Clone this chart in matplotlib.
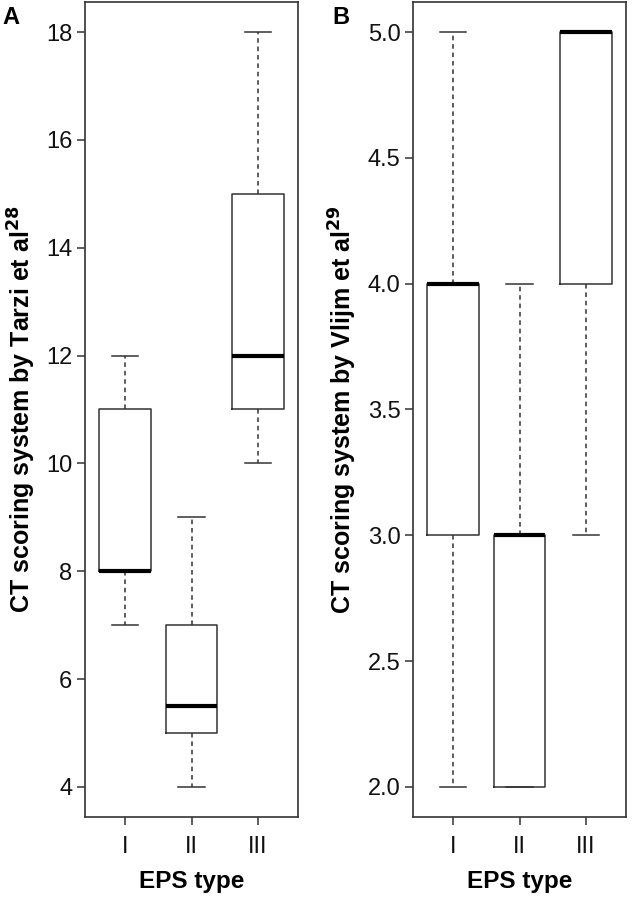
import matplotlib
matplotlib.use("Agg")
import matplotlib.pyplot as plt

plt.rcParams['font.family'] = ['Liberation Sans', 'DejaVu Sans']

# EPS type categories
groups = ["I", "II", "III"]

# Panel A: Tarzi et al scoring (whisker low, q1, median, q3, whisker high)
tarzi_low = [7, 4, 10]
tarzi_q1 = [8, 5, 11]
tarzi_med = [8, 5.5, 12]
tarzi_q3 = [11, 7, 15]
tarzi_high = [12, 9, 18]

# Panel B: Vlijm et al scoring
vlijm_low = [2, 2, 3]
vlijm_q1 = [3, 2, 4]
vlijm_med = [4, 3, 5]
vlijm_q3 = [4, 3, 5]
vlijm_high = [5, 4, 5]

line_col = "#333333"


def make_stats(low, q1, med, q3, high):
    stats = []
    for i in range(len(low)):
        stats.append(dict(whislo=low[i], q1=q1[i], med=med[i], q3=q3[i],
                          whishi=high[i], fliers=[]))
    return stats


def draw_panel(ax, stats, ylabel, yticks, yfmt):
    ax.bxp(stats, positions=[1, 2, 3], widths=0.78, showfliers=False,
           boxprops=dict(color=line_col, linewidth=1.1),
           whiskerprops=dict(color=line_col, linewidth=1.1, linestyle=(0, (3, 2.5))),
           capprops=dict(color=line_col, linewidth=1.1),
           medianprops=dict(color="black", linewidth=3.0, solid_capstyle="butt"),
           capwidths=0.4)
    ax.set_xlim(0.4, 3.6)
    lo, hi = yticks[0], yticks[-1]
    pad = (hi - lo) * 0.04
    ax.set_ylim(lo - pad, hi + pad)
    ax.set_yticks(yticks)
    ax.set_yticklabels([yfmt % v for v in yticks])
    ax.set_xticks([1, 2, 3])
    ax.set_xticklabels(groups)
    for s in ax.spines.values():
        s.set_color(line_col)
        s.set_linewidth(1.2)
    ax.tick_params(axis="both", direction="out", length=6, width=1.1,
                   color=line_col, labelsize=17, labelcolor="#111111")
    ax.tick_params(axis="x", pad=8)
    ax.tick_params(axis="y", pad=3)
    ax.set_ylabel(ylabel, fontsize=18, fontweight="bold", labelpad=6)
    ax.set_xlabel("EPS type", fontsize=17.5, fontweight="bold", labelpad=8)


fig = plt.figure(figsize=(6.32, 8.97), dpi=100)
W, H = 632, 897
axA = fig.add_axes([85 / W, (H - 817) / H, 213 / W, 815 / H])
axB = fig.add_axes([413 / W, (H - 817) / H, 213 / W, 815 / H])

draw_panel(axA, make_stats(tarzi_low, tarzi_q1, tarzi_med, tarzi_q3, tarzi_high),
           r"CT scoring system by Tarzi et al$^{\mathbf{28}}$",
           [4, 6, 8, 10, 12, 14, 16, 18], "%d")
draw_panel(axB, make_stats(vlijm_low, vlijm_q1, vlijm_med, vlijm_q3, vlijm_high),
           r"CT scoring system by Vlijm et al$^{\mathbf{29}}$",
           [2.0, 2.5, 3.0, 3.5, 4.0, 4.5, 5.0], "%.1f")

fig.text(2 / W, 1 - 18 / H, "A", fontsize=17, fontweight="bold", va="center", ha="left")
fig.text(332 / W, 1 - 18 / H, "B", fontsize=17, fontweight="bold", va="center", ha="left")

fig.savefig("out.png", dpi=100)
